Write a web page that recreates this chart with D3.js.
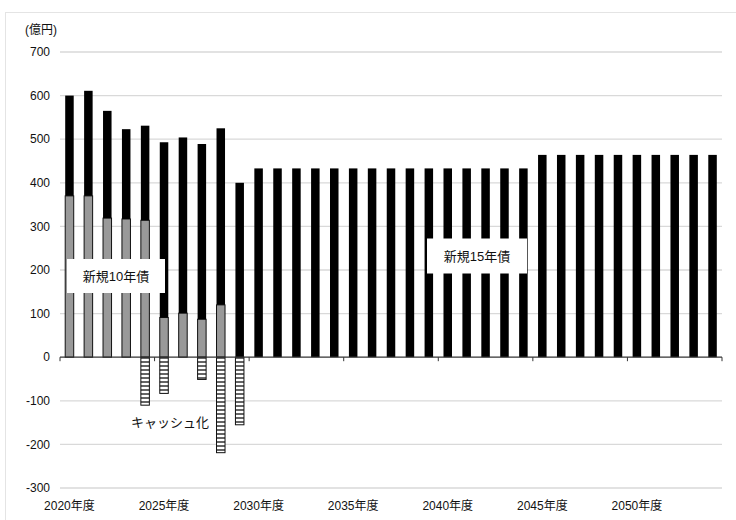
<!DOCTYPE html>
<html>
<head>
<meta charset="utf-8">
<script src="https://cdn.jsdelivr.net/npm/d3@7"></script>
<style>
  html, body { margin: 0; padding: 0; background: #fff; }
  svg { display: block; font-family: "Liberation Sans", Arial, "Noto Sans CJK JP", sans-serif; }
</style>
</head>
<body>
<svg id="chart" width="736" height="520"></svg>
<script>
// Fiscal years 2020–2054
const years = d3.range(2020, 2055).map(y => y + "年度");
const tickYears = ["2020年度", "2025年度", "2030年度", "2035年度", "2040年度", "2045年度", "2050年度"];

// 新規10年債 (grey segment), 新規15年債 (black segment), キャッシュ化 (hatched, negative)
const new10 = [370, 370, 319, 317, 314, 91, 101, 87, 120, 0,
  0, 0, 0, 0, 0, 0, 0, 0, 0, 0, 0, 0, 0, 0, 0,
  0, 0, 0, 0, 0, 0, 0, 0, 0, 0];
const new15 = [230, 241, 246, 206, 217, 402, 403, 402, 405, 400,
  433, 433, 433, 433, 433, 433, 433, 433, 433, 433, 433, 433, 433, 433, 433,
  464, 464, 464, 464, 464, 464, 464, 464, 464, 464];
const cash = [0, 0, 0, 0, -110, -83, 0, -51, -219, -155,
  0, 0, 0, 0, 0, 0, 0, 0, 0, 0, 0, 0, 0, 0, 0,
  0, 0, 0, 0, 0, 0, 0, 0, 0, 0];
const yTicks = [700, 600, 500, 400, 300, 200, 100, 0, -100, -200, -300];

const rows = years.map((y, i) => ({ year: y, new10: new10[i], new15: new15[i], cash: cash[i] }));
const keys = ["new10", "new15", "cash"];
const series = d3.stack().keys(keys).offset(d3.stackOffsetDiverging)(rows);

const svg = d3.select("#chart");

// outer frame
svg.append("rect")
  .attr("x", 5.5).attr("y", 12.5).attr("width", 740).attr("height", 520)
  .attr("fill", "none").attr("stroke", "#e4e4e4");

const x = d3.scaleBand().domain(years).range([60, 722]).paddingInner(0.55).paddingOuter(0.275);
const y = d3.scaleLinear().domain([-300, 700]).range([488, 52]);

// hatch pattern for the cash-out bars
const defs = svg.append("defs");
const pat = defs.append("pattern")
  .attr("id", "hatch").attr("patternUnits", "userSpaceOnUse")
  .attr("width", 8).attr("height", 4);
pat.append("rect").attr("width", 8).attr("height", 4).attr("fill", "#fff");
pat.append("line").attr("x1", 0).attr("x2", 8).attr("y1", 2).attr("y2", 2)
  .attr("stroke", "#222").attr("stroke-width", 1.4);

// gridlines
svg.append("g")
  .selectAll("line")
  .data(yTicks.filter(v => v !== 0))
  .join("line")
  .attr("x1", 60).attr("x2", 722)
  .attr("y1", d => y(d)).attr("y2", d => y(d))
  .attr("stroke", "#d9d9d9").attr("stroke-width", 1.3);

// y tick labels
svg.append("g")
  .selectAll("text")
  .data(yTicks)
  .join("text")
  .attr("x", 50).attr("y", d => y(d))
  .attr("dy", "0.35em")
  .attr("text-anchor", "end")
  .attr("font-size", 12)
  .attr("fill", "#111")
  .text(d => d);

svg.append("text")
  .attr("x", 25).attr("y", 30).attr("dy", "0.35em")
  .attr("font-size", 12).attr("fill", "#111")
  .text("(億円)");

// bars
const fills = { new10: "#999", new15: "#000", cash: "url(#hatch)" };
svg.append("g")
  .selectAll("g")
  .data(series)
  .join("g")
  .attr("fill", s => fills[s.key])
  .attr("stroke", s => s.key === "new15" ? "none" : "#111")
  .attr("stroke-width", 1)
  .selectAll("rect")
  .data(s => s.filter(d => d[1] !== d[0]))
  .join("rect")
  .attr("x", d => x(d.data.year))
  .attr("width", x.bandwidth())
  .attr("y", d => y(Math.max(d[0], d[1])))
  .attr("height", d => Math.abs(y(d[0]) - y(d[1])));

// category axis along zero
const xAxis = svg.append("g");
xAxis.append("line")
  .attr("x1", 60).attr("x2", 722)
  .attr("y1", y(0)).attr("y2", y(0))
  .attr("stroke", "#333").attr("stroke-width", 1.2);
const tickPos = d3.range(0, years.length + 1, 5).map(i => 60 + i * x.step());
xAxis.selectAll("line.tick")
  .data(tickPos)
  .join("line")
  .attr("class", "tick")
  .attr("x1", d => d).attr("x2", d => d)
  .attr("y1", y(0)).attr("y2", y(0) + 4)
  .attr("stroke", "#333").attr("stroke-width", 1);

svg.append("g")
  .selectAll("text")
  .data(tickYears)
  .join("text")
  .attr("x", d => x(d) + x.bandwidth() / 2)
  .attr("y", 506)
  .attr("dy", "0.35em")
  .attr("text-anchor", "middle")
  .attr("font-size", 12)
  .attr("fill", "#111")
  .text(d => d);

// annotations
function note(cx, cy, text, box) {
  const g = svg.append("g");
  if (box) {
    g.append("rect")
      .attr("x", cx - box[0] / 2).attr("y", cy - box[1] / 2)
      .attr("width", box[0]).attr("height", box[1])
      .attr("fill", "#fff");
  }
  g.append("text")
    .attr("x", cx).attr("y", cy).attr("dy", "0.35em")
    .attr("text-anchor", "middle")
    .attr("font-size", 13)
    .attr("fill", "#111")
    .text(text);
}
note(116, 276, "新規10年債", [98, 34]);
note(477, 256, "新規15年債", [100, 35]);
note(170, 422, "キャッシュ化", null);
</script>
</body>
</html>
